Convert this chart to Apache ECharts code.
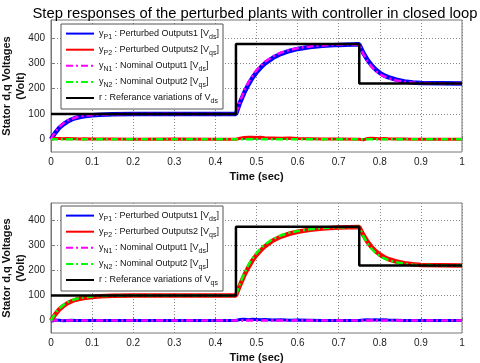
<!DOCTYPE html>
<html>
<head>
<meta charset="utf-8">
<script src="https://cdn.jsdelivr.net/npm/echarts@6/dist/echarts.min.js"></script>
<style>
html, body { margin: 0; padding: 0; background: #fff; }
#main { width: 480px; height: 363px; }
</style>
</head>
<body>
<div id="main"></div>
<script>
// sample times (sec) shared by all response curves
var time = [0, 0.005, 0.01, 0.02, 0.03, 0.04, 0.05, 0.06, 0.07, 0.08, 0.1, 0.12, 0.15, 0.2, 0.3, 0.4,
            0.45, 0.46, 0.47, 0.48, 0.49, 0.5, 0.51, 0.52, 0.54, 0.56, 0.58, 0.6, 0.63, 0.66, 0.7,
            0.75, 0.76, 0.77, 0.78, 0.79, 0.8, 0.81, 0.82, 0.84, 0.86, 0.88, 0.9, 0.95, 1];

// reference steps
var refTime = [0, 0.45, 0.75, 1];
var refD = [100, 375, 220, 220];
var refQ = [100, 375, 220, 220];

// d-axis plot
var dP1 = [0, 13, 25, 45, 59, 70, 78, 84, 88, 91, 95, 97, 99, 100, 100, 100,
           100, 145, 183, 215, 242, 264, 282, 298, 321, 337, 348, 356, 364, 369, 372,
           374, 340, 313, 292, 275, 262, 252, 245, 235, 228, 224, 222, 221, 220];
var dP2 = [0, 2, 3, 3, 2, 3, 2, 2, 1, 2, 1, 1, 1, 0, 1, 0,
           0, 4, 7, 8, 8, 7, 8, 6, 5, 4, 5, 3, 2, 1, 1,
           0, -2, 3, 4, 3, 2, 3, 2, 1, 1, 0, 0, 0, 0];
var dN1 = [0, 15, 28, 49, 63, 74, 81, 86, 90, 93, 96, 98, 99, 100, 100, 100,
           100, 150, 190, 223, 250, 272, 290, 305, 327, 342, 352, 359, 366, 370, 373,
           374, 336, 308, 286, 269, 257, 248, 241, 232, 226, 223, 222, 220, 220];
var dN2 = [0, 0, 0, 0, 0, 0, 0, 0, 0, 0, 0, 0, 0, 0, 0, 0,
           0, 0, 0, 0, 0, 0, 0, 0, 0, 0, 0, 0, 0, 0, 0,
           0, 0, 0, 0, 0, 0, 0, 0, 0, 0, 0, 0, 0, 0];

// q-axis plot
var qP1 = [0, -2, 2, 1, -1, 0, 1, 0, 0, 0, 0, 0, 0, 0, 0, 0,
           0, 4, 5, 3, 5, 4, 3, 4, 2, 3, 1, 2, 1, 0, 0,
           0, 2, 3, 2, 3, 2, 3, 2, 1, 0, 0, 0, 0, 0];
var qP2 = [0, 12, 24, 44, 58, 69, 77, 83, 87, 90, 94, 97, 99, 100, 100, 100,
           100, 142, 180, 212, 240, 262, 280, 296, 320, 336, 347, 355, 363, 368, 372,
           374, 342, 315, 294, 277, 264, 254, 246, 236, 229, 225, 222, 221, 220];
var qN1 = [0, 0, 0, 0, 0, 0, 0, 0, 0, 0, 0, 0, 0, 0, 0, 0,
           0, 0, 0, 0, 0, 0, 0, 0, 0, 0, 0, 0, 0, 0, 0,
           0, 0, 0, 0, 0, 0, 0, 0, 0, 0, 0, 0, 0, 0];
var qN2 = [0, 14, 27, 48, 62, 73, 80, 86, 90, 92, 96, 98, 99, 100, 100, 100,
           100, 148, 188, 221, 248, 270, 288, 303, 326, 341, 351, 358, 365, 370, 373,
           374, 337, 309, 287, 270, 258, 249, 242, 233, 227, 223, 222, 220, 220];

var yTicks = [0, 100, 200, 300, 400];

var legendText = {
  dP1: '{i|y}{s|P1}{i| : Perturbed Outputs1 [V}{s|ds}{i|]}',
  dP2: '{i|y}{s|P2}{i| : Perturbed Outputs2 [V}{s|qs}{i|]}',
  dN1: '{i|y}{s|N1}{i| : Nominal Output1 [V}{s|ds}{i|]}',
  dN2: '{i|y}{s|N2}{i| : Nominal Output2 [V}{s|qs}{i|]}',
  dR:  '{i|r : Referance variations of V}{s|ds}',
  qP1: '{i|y}{s|P1}{i| : Perturbed Outputs1 [V}{s|ds}{i|]}',
  qP2: '{i|y}{s|P2}{i| : Perturbed Outputs2 [V}{s|qs}{i|]}',
  qN1: '{i|y}{s|N1}{i| : Nominal Output1 [V}{s|ds}{i|]}',
  qN2: '{i|y}{s|N2}{i| : Nominal Output2 [V}{s|qs}{i|]}',
  qR:  '{i|r : Referance variations of V}{s|qs}'
};

function pts(xs, ys) {
  return xs.map(function (x, i) { return [x, ys[i]]; });
}

var font = 'Liberation Sans, Arial, sans-serif';

function xAx(idx) {
  return {
    type: 'value', gridIndex: idx, min: 0, max: 1, interval: 0.1,
    name: 'Time (sec)', nameLocation: 'middle', nameGap: 19,
    nameTextStyle: { fontFamily: font, fontSize: 11, fontWeight: 'bold', color: '#111' },
    axisLine: { lineStyle: { color: '#777', width: 1 } },
    axisTick: { inside: true, length: 3, lineStyle: { color: '#777' } },
    axisLabel: { fontFamily: font, fontSize: 10, color: '#222', margin: 5 },
    splitLine: { show: true, lineStyle: { color: '#888', type: [1, 2], width: 1 } }
  };
}

function yAx(idx) {
  return {
    type: 'value', gridIndex: idx, min: -50, max: 470,
    name: 'Stator d,q Voltages\n(Volt)', nameLocation: 'middle', nameGap: 23, nameRotate: 90,
    nameMoveOverlap: false,
    nameTextStyle: { fontFamily: font, fontSize: 11, fontWeight: 'bold', color: '#111', lineHeight: 14 },
    axisLine: { show: true, lineStyle: { color: '#777', width: 1 } },
    axisTick: { inside: true, length: 3, customValues: yTicks, lineStyle: { color: '#777' } },
    axisLabel: { fontFamily: font, fontSize: 10, color: '#222', margin: 6, customValues: yTicks },
    splitLine: { show: true, lineStyle: { color: '#888', type: [1, 2], width: 1 } }
  };
}

function lineSeries(name, idx, data, color, width, dash) {
  return {
    name: name, type: 'line', xAxisIndex: idx, yAxisIndex: idx,
    data: data, symbol: 'none', animation: false,
    lineStyle: { color: color, width: width, type: dash || 'solid' },
    itemStyle: { color: color }
  };
}

function legendFor(names, top) {
  return {
    orient: 'vertical', left: 61, top: top, itemGap: 3.5,
    itemWidth: 28, itemHeight: 14,
    backgroundColor: '#fff', borderColor: '#555', borderWidth: 1, padding: [4, 4, 4, 4],
    data: names,
    itemStyle: { opacity: 0 },
    formatter: function (n) { return legendText[n]; },
    textStyle: {
      fontFamily: font, fontSize: 9, color: '#111',
      rich: {
        i: { fontSize: 9, lineHeight: 14, verticalAlign: 'middle' },
        s: { fontSize: 7, lineHeight: 14, verticalAlign: 'bottom' }
      }
    }
  };
}

var dashDot = [7, 3, 2, 3];

var chart = echarts.init(document.getElementById('main'));
chart.setOption({
  backgroundColor: '#fff',
  animation: false,
  title: {
    text: 'Step responses of the perturbed plants with controller in closed loop',
    left: 250, top: 1, textAlign: 'center',
    textStyle: { fontFamily: font, fontSize: 14.8, fontWeight: 'normal', color: '#000' }
  },
  legend: [
    legendFor(['dP1', 'dP2', 'dN1', 'dN2', 'dR'], 24),
    legendFor(['qP1', 'qP2', 'qN1', 'qN2', 'qR'], 206)
  ],
  grid: [
    { left: 51, right: 18, top: 20, height: 132, show: true, borderColor: '#777', borderWidth: 1, outerBoundsMode: 'none', containLabel: false },
    { left: 51, right: 18, top: 203, height: 130, show: true, borderColor: '#777', borderWidth: 1, outerBoundsMode: 'none', containLabel: false }
  ],
  xAxis: [xAx(0), xAx(1)],
  yAxis: [yAx(0), yAx(1)],
  series: [
    lineSeries('dP1', 0, pts(time, dP1), '#0000ff', 4.5),
    lineSeries('dP2', 0, pts(time, dP2), '#ff0000', 3),
    lineSeries('dN1', 0, pts(time, dN1), '#ff00ff', 2.5, dashDot),
    lineSeries('dN2', 0, pts(time, dN2), '#00ff00', 2.5, dashDot),
    Object.assign(lineSeries('dR', 0, pts(refTime, refD), '#000000', 2.5), { step: 'end' }),
    lineSeries('qP1', 1, pts(time, qP1), '#0000ff', 3),
    lineSeries('qP2', 1, pts(time, qP2), '#ff0000', 4.5),
    lineSeries('qN1', 1, pts(time, qN1), '#ff00ff', 2.5, dashDot),
    lineSeries('qN2', 1, pts(time, qN2), '#00ff00', 2.5, dashDot),
    Object.assign(lineSeries('qR', 1, pts(refTime, refQ), '#000000', 2.5), { step: 'end' })
  ]
});
</script>
</body>
</html>
